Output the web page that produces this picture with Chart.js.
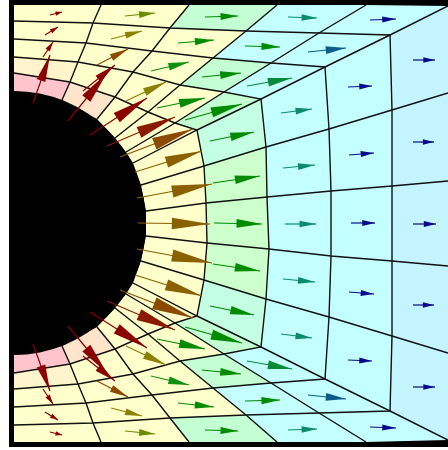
<!DOCTYPE html>
<html>
<head>
<meta charset="utf-8">
<style>
  html, body { margin: 0; padding: 0; background: #fff; }
  canvas { position: absolute; left: 0; top: 0; }
</style>
<script src="https://cdn.jsdelivr.net/npm/chart.js@4"></script>
</head>
<body>
<canvas id="mesh" width="448" height="450"></canvas>
<script>
// mesh nodes, one row per radial line, disc side first
const nodeX = [
  [14, 14, 14, 14, 14, 14],
  [62, 70, 78, 86, 93, 101],
  [97, 115, 133, 152, 170, 189],
  [115, 148, 180, 213, 246, 277],
  [126, 175, 224, 271, 319, 366],
  [133, 197, 261, 325, 390, 448],
  [141, 204, 266, 329, 392, 448],
  [146, 206, 267, 331, 392, 448],
  [146, 207, 269, 331, 392, 448],
  [141, 204, 266, 329, 392, 448],
  [133, 197, 261, 325, 390, 448],
  [126, 175, 224, 271, 319, 366],
  [115, 148, 180, 213, 246, 277],
  [97, 115, 133, 152, 170, 189],
  [62, 70, 78, 86, 93, 101],
  [14, 14, 14, 14, 14, 14],
];
const nodeY = [
  [91, 73, 57, 39, 21, 5],
  [100, 82, 62, 43, 23, 5],
  [119, 97, 72, 51, 28, 5],
  [138, 112, 85, 58, 31, 5],
  [152, 123, 92, 63, 33, 5],
  [163, 130, 99, 67, 35, 6],
  [185, 166, 147, 129, 110, 93],
  [211, 203, 197, 191, 186, 181],
  [236, 243, 249, 256, 261, 266],
  [261, 280, 299, 317, 336, 353],
  [283, 316, 347, 379, 411, 440],
  [294, 323, 354, 383, 413, 442],
  [308, 334, 361, 388, 415, 442],
  [327, 349, 374, 395, 418, 442],
  [346, 364, 384, 403, 423, 442],
  [355, 373, 389, 407, 425, 442],
];
// contour level of each cell
const cellLevel = [
  [0, 2, 3, 3, 3],
  [1, 3, 3, 3, 3],
  [3, 3, 3, 3, 5],
  [3, 3, 5, 7, 7],
  [3, 5, 7, 7, 7],
  [3, 6, 7, 7, 8],
  [3, 4, 7, 7, 8],
  [3, 4, 7, 7, 8],
  [3, 4, 7, 7, 8],
  [3, 6, 7, 7, 8],
  [3, 5, 7, 7, 7],
  [3, 3, 5, 7, 7],
  [3, 3, 3, 3, 5],
  [1, 3, 3, 3, 3],
  [0, 2, 3, 3, 3],
];
// velocity arrows, upper half then middle row then lower half
const tailX = [50, 45, 43, 33, 83, 68, 97, 111, 125, 90, 126, 151, 178, 205, 107, 157, 185, 202, 247, 245, 288, 308, 370, 413, 348, 281, 210, 283, 349, 413, 213, 137, 135, 120,
  285, 351, 413, 214, 138,
  50, 45, 43, 33, 83, 68, 97, 111, 125, 90, 126, 151, 178, 205, 107, 157, 185, 202, 247, 245, 288, 308, 370, 413, 348, 281, 210, 283, 349, 413, 213, 137, 135, 120];
const tailY = [15, 35, 57, 103, 91, 121, 65, 39, 16, 135, 101, 71, 43, 17, 146, 108, 120, 77, 86, 46, 17, 52, 20, 60, 87, 113, 141, 168, 155, 142, 183, 198, 172, 157,
  224, 223, 224, 223, 223,
  432, 412, 389, 344, 356, 326, 381, 408, 431, 312, 346, 376, 403, 430, 301, 339, 327, 370, 361, 401, 430, 395, 427, 387, 360, 334, 306, 279, 292, 305, 264, 249, 275, 290];
const tipX = [62, 58, 53, 50, 115, 107, 128, 142, 155, 147, 166, 189, 214, 238, 175, 205, 242, 241, 292, 280, 317, 346, 396, 435, 372, 312, 254, 315, 374, 434, 260, 212, 202, 193,
  316, 375, 436, 262, 210,
  62, 58, 53, 50, 115, 107, 128, 142, 155, 147, 166, 189, 214, 238, 175, 205, 242, 241, 292, 280, 317, 346, 396, 435, 372, 312, 254, 315, 374, 434, 260, 212, 202, 193];
const tipY = [12, 27, 42, 55, 65, 73, 49, 31, 13, 98, 82, 62, 40, 16, 117, 98, 104, 73, 78, 47, 18, 48, 19, 60, 86, 109, 132, 165, 153, 142, 176, 184, 151, 129,
  224, 223, 224, 224, 224,
  435, 420, 404, 391, 381, 373, 397, 416, 434, 348, 365, 385, 407, 431, 330, 349, 343, 374, 369, 400, 429, 399, 428, 387, 361, 338, 315, 282, 294, 305, 271, 263, 296, 318];
const arrowLevel = [11, 11, 11, 11, 11, 11, 9, 7, 6, 11, 7, 5, 4, 4, 10, 4, 4, 4, 3, 4, 2, 1, 0, 0, 0, 2, 4, 2, 0, 0, 4, 8, 8, 9,
  2, 0, 0, 4, 8,
  11, 11, 11, 11, 11, 11, 9, 7, 6, 11, 7, 5, 4, 4, 10, 4, 4, 4, 3, 4, 2, 1, 0, 0, 0, 2, 4, 2, 0, 0, 4, 8, 8, 9];
const hole = { x: 14, y: 223 };

const cellColors = ["#FFC4CC", "#FFE4CC", "#FFF4CC", "#FFFFCC", "#CCFFCC", "#C4FFD4", "#C4FFE4", "#C4FFFF", "#C4F4FF"];
const arrowColors = ["#0A0A8C", "#0B5B8B", "#0B8B6B", "#0B8B3A", "#008B00", "#109010", "#6B8B00", "#8B8000", "#8B6000", "#8B4A00", "#8B1A00", "#8B0000"];

function polygon(ctx, pts, color) {
  ctx.beginPath();
  pts.forEach((p, i) => (i ? ctx.lineTo(p[0], p[1]) : ctx.moveTo(p[0], p[1])));
  ctx.closePath();
  ctx.fillStyle = color;
  ctx.fill();
}

// frame and coloured cells go under the datasets
const cellsPlugin = {
  id: "cells",
  beforeDatasetsDraw(chart) {
    const { ctx, scales: { x, y } } = chart;
    const px = (a, b) => [x.getPixelForValue(a), y.getPixelForValue(b)];
    ctx.save();
    polygon(ctx, [px(9, 0), px(448, 0), px(448, 447), px(9, 447)], "#000");
    cellLevel.forEach((col, i) => {
      col.forEach((level, j) => {
        const pts = [
          px(nodeX[i][j], nodeY[i][j]),
          px(nodeX[i + 1][j], nodeY[i + 1][j]),
          px(nodeX[i + 1][j + 1], nodeY[i + 1][j + 1]),
          px(nodeX[i][j + 1], nodeY[i][j + 1]),
        ];
        polygon(ctx, pts, cellColors[level]);
      });
    });
    ctx.restore();
  },
};

// arrow heads go on top, the shafts are datasets
const headsPlugin = {
  id: "heads",
  afterDatasetsDraw(chart) {
    const { ctx, scales: { x, y } } = chart;
    ctx.save();
    tailX.forEach((_, k) => {
      const x0 = x.getPixelForValue(tailX[k]);
      const y0 = y.getPixelForValue(tailY[k]);
      const x1 = x.getPixelForValue(tipX[k]);
      const y1 = y.getPixelForValue(tipY[k]);
      const len = Math.hypot(x1 - x0, y1 - y0);
      const w = (3 + 0.12 * len) / 2;
      const bx = x0 + (x1 - x0) * 0.47;
      const by = y0 + (y1 - y0) * 0.47;
      const nx = -(y1 - y0) / len;
      const ny = (x1 - x0) / len;
      polygon(ctx, [[bx + nx * w, by + ny * w], [x1, y1], [bx - nx * w, by - ny * w]], arrowColors[arrowLevel[k]]);
    });
    ctx.restore();
  },
};

const datasets = [];
// the black hole
datasets.push({
  data: [{ x: hole.x, y: hole.y }],
  pointRadius: 132,
  pointBackgroundColor: "#000",
  pointBorderWidth: 0,
  showLine: false,
  order: 3,
  clip: { left: -9, top: 0, right: 0, bottom: 0 },
});
// radial mesh lines
for (let i = 1; i < nodeX.length - 1; i++) {
  datasets.push({
    data: nodeX[i].map((v, j) => ({ x: v, y: nodeY[i][j] })),
    showLine: true,
    pointRadius: 0,
    borderColor: "#111",
    borderWidth: 1.4,
    order: 2,
  });
}
// arc mesh lines
for (let j = 1; j < 5; j++) {
  datasets.push({
    data: nodeX.map((col, i) => ({ x: col[j], y: nodeY[i][j] })),
    showLine: true,
    pointRadius: 0,
    borderColor: "#111",
    borderWidth: 1.4,
    order: 2,
  });
}
tailX.forEach((_, k) => {
  datasets.push({
    data: [{ x: tailX[k], y: tailY[k] }, { x: tipX[k], y: tipY[k] }],
    showLine: true,
    pointRadius: 0,
    borderColor: arrowColors[arrowLevel[k]],
    borderWidth: 1.2,
    order: 1,
  });
});

new Chart(document.getElementById("mesh").getContext("2d"), {
  type: "scatter",
  data: { datasets },
  plugins: [cellsPlugin, headsPlugin],
  options: {
    responsive: false,
    animation: false,
    layout: { padding: 0, autoPadding: false },
    plugins: {
      legend: { display: false },
      tooltip: { enabled: false },
    },
    scales: {
      x: { type: "linear", min: 0, max: 448, display: false },
      y: { type: "linear", min: 0, max: 450, reverse: true, display: false },
    },
  },
});
</script>
</body>
</html>
